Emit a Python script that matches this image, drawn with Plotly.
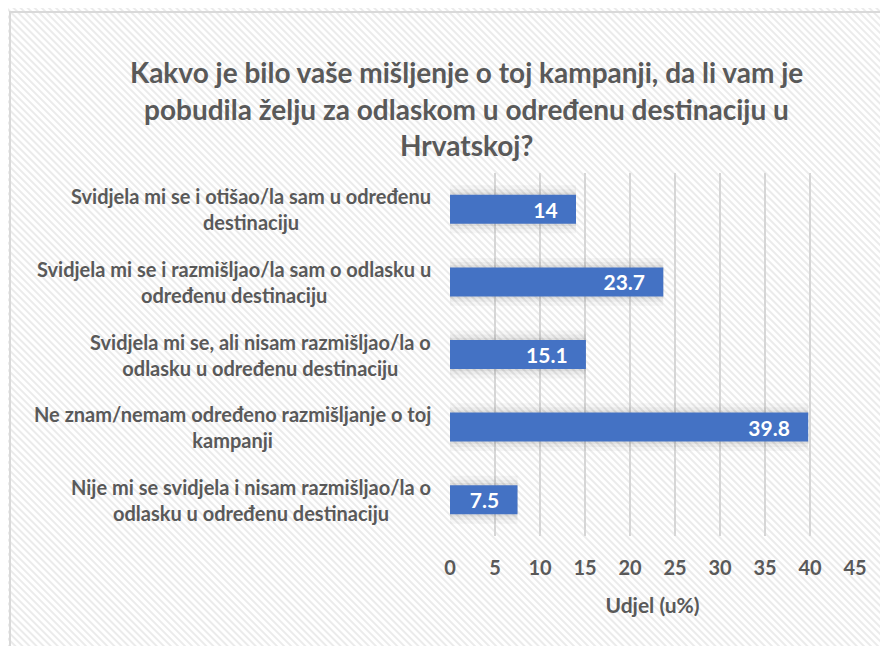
import plotly.graph_objects as go
import base64

categories = [
    "Svidjela mi se i otišao/la sam u određenu<br>destinaciju",
    "Svidjela mi se i razmišljao/la sam o odlasku u<br>određenu destinaciju",
    "Svidjela mi se, ali nisam razmišljao/la o<br>odlasku u određenu destinaciju",
    "Ne znam/nemam određeno razmišljanje o toj<br>kampanji",
    "Nije mi se svidjela i nisam razmišljao/la o<br>odlasku u određenu destinaciju",
]
values = [14, 23.7, 15.1, 39.8, 7.5]
title_lines = [
    "Kakvo je bilo vaše mišljenje o toj kampanji, da li vam je",
    "pobudila želju za odlaskom u određenu destinaciju u",
    "Hrvatskoj?",
]
x_title = "Udjel (u%)"
tick_vals = list(range(0, 50, 5))

# page body has an 8px margin; work in reference pixel coords minus 8
OFF = 8
W, H = 888 - OFF, 646 - OFF
L, R, T, B = 450 - OFF, 33, 173 - OFF, 110
pw, ph = W - L - R, H - T - B

FONT = "Lato"
GREY = "#595959"
BLUE = "#4472C4"

svg = f'''<svg xmlns="http://www.w3.org/2000/svg" width="{W}" height="{H}" viewBox="0 0 {W} {H}" preserveAspectRatio="none">
<defs><pattern id="p" width="5" height="5" patternUnits="userSpaceOnUse" patternTransform="rotate(45)">
<rect width="5" height="5" fill="#ffffff"/><rect width="5" height="2" fill="#ebebeb"/></pattern></defs>
<rect width="{W}" height="{H}" fill="url(#p)"/></svg>'''
src = "data:image/svg+xml;base64," + base64.b64encode(svg.encode()).decode()

def px_x(x):  # reference pixel -> paper
    return (x - OFF - L) / pw

def px_y(y):
    return 1 - (y - OFF - T) / ph

fig = go.Figure()

# soft shadows
for extra, alpha in [(0.26, 0.03), (0.15, 0.04), (0.06, 0.06)]:
    fig.add_trace(go.Bar(
        x=values, y=categories, orientation="h",
        width=0.40 + extra,
        marker=dict(color=f"rgba(0,0,0,{alpha})", line=dict(width=0)),
        hoverinfo="skip", showlegend=False,
    ))

fig.add_trace(go.Bar(
    x=values, y=categories, orientation="h",
    width=0.40,
    marker=dict(color=BLUE, line=dict(width=0)),
    text=[f"{v:g}\u00a0\u00a0\u00a0" for v in values],
    textposition="inside", insidetextanchor="end", constraintext="none",
    textfont=dict(family=FONT, size=21, color="white", weight="bold"),
    showlegend=False,
))

fig.update_layout(
    width=W, height=H,
    margin=dict(l=L, r=R, t=T, b=B),
    paper_bgcolor="white",
    plot_bgcolor="rgba(0,0,0,0)",
    barmode="overlay",
    font=dict(family=FONT, color=GREY),
    xaxis=dict(
        range=[0, 45], tickvals=tick_vals,
        showgrid=True, gridcolor="#d6d6d6", gridwidth=1.5,
        zeroline=False, showline=False,
        tickfont=dict(family=FONT, size=20, color=GREY, weight="bold"),
        ticklabelstandoff=18,
        title=dict(text=x_title, font=dict(family=FONT, size=21, color=GREY, weight="bold"), standoff=20),
    ),
    yaxis=dict(
        categoryorder="array", categoryarray=categories, autorange="reversed",
        showticklabels=False, showgrid=False, zeroline=False,
    ),
    images=[dict(
        source=src, xref="paper", yref="paper",
        x=-L / pw, y=1 + T / ph, sizex=W / pw, sizey=H / ph,
        xanchor="left", yanchor="top", sizing="stretch", layer="below",
    )],
    shapes=[dict(
        type="rect", xref="paper", yref="paper",
        x0=px_x(10), x1=px_x(888 + 20), y0=px_y(12), y1=px_y(646 + 20),
        line=dict(color="#d9d9d9", width=2), fillcolor="rgba(0,0,0,0)",
    )],
)

for i, line in enumerate(title_lines):
    fig.add_annotation(
        text=line, xref="paper", yref="paper",
        x=px_x(466), y=px_y([72, 109, 145][i]),
        xanchor="center", yanchor="middle", showarrow=False,
        font=dict(family=FONT, size=28, color=GREY, weight="bold"),
    )

for c in categories:
    fig.add_annotation(
        text=c, xref="paper", yref="y",
        x=px_x(433), y=c, xanchor="right", yanchor="middle",
        align="center", showarrow=False,
        font=dict(family=FONT, size=20, color=GREY, weight="bold"),
    )

fig.write_html("out.html")
